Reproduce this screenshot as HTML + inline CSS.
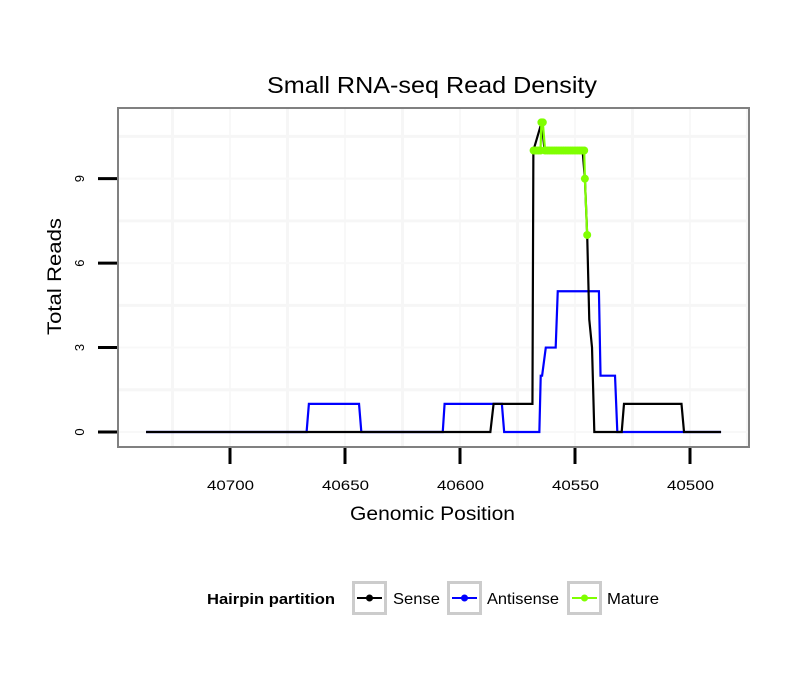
<!DOCTYPE html>
<html><head><meta charset="utf-8"><style>
body{margin:0;background:#fff;font-family:"Liberation Sans",sans-serif}
</style></head><body>
<svg id="chart" width="810" height="690" xmlns="http://www.w3.org/2000/svg">
<rect width="810" height="690" fill="#fff"/>
<text x="267" y="93" font-size="23" textLength="330" lengthAdjust="spacingAndGlyphs">Small RNA-seq Read Density</text>
<g id="grid"></g>
<g id="series"></g>
<rect x="118" y="108" width="631" height="339" fill="none" stroke="#808080" stroke-width="2"/>
<g id="axes"></g>
<text x="350" y="520" font-size="19" textLength="165" lengthAdjust="spacingAndGlyphs">Genomic Position</text>
<text transform="translate(61,335) rotate(-90)" font-size="19" textLength="117" lengthAdjust="spacingAndGlyphs">Total Reads</text>
<g>
<text x="207" y="604" font-size="15" font-weight="bold" textLength="128" lengthAdjust="spacingAndGlyphs">Hairpin partition</text>
<g>
<rect x="353.5" y="582.5" width="32" height="31" fill="#fff" stroke="#ccc" stroke-width="3"/>
<line x1="357" y1="598" x2="382" y2="598" stroke="#000" stroke-width="2"/><circle cx="369.5" cy="598" r="3.5" fill="#000"/>
<text x="393" y="604" font-size="16" textLength="47" lengthAdjust="spacingAndGlyphs">Sense</text></g>
<g>
<rect x="448.5" y="582.5" width="32" height="31" fill="#fff" stroke="#ccc" stroke-width="3"/>
<line x1="452" y1="598" x2="477" y2="598" stroke="#00f" stroke-width="2"/><circle cx="464.5" cy="598" r="3.5" fill="#00f"/>
<text x="487" y="604" font-size="16" textLength="72" lengthAdjust="spacingAndGlyphs">Antisense</text></g>
<g>
<rect x="568.5" y="582.5" width="32" height="31" fill="#fff" stroke="#ccc" stroke-width="3"/>
<line x1="572" y1="598" x2="597" y2="598" stroke="#7fff00" stroke-width="2"/><circle cx="584.5" cy="598" r="3.5" fill="#7fff00"/>
<text x="607" y="604" font-size="16" textLength="52" lengthAdjust="spacingAndGlyphs">Mature</text></g>
</g>
</svg>
<script>
const senseX=[40736.5,40586.8,40585.4,40568.5,40568.1,40564.5,40563.2,40546.7,40545.7,40544.7,40543.8,40542.6,40541.6,40529.7,40528.7,40503.7,40502.6,40486.5];
const senseY=[0,0,1,1,10,11,10,10,9,7,4,3,0,0,1,1,0,0];
const antiX=[40736.5,40666.7,40665.7,40643.9,40642.9,40607.5,40606.7,40581.8,40580.8,40565.5,40564.9,40564.3,40562.7,40558.4,40557.5,40539.6,40538.9,40532.6,40531.6,40486.5];
const antiY=[0,0,1,1,0,0,1,1,0,0,2,2,3,3,5,5,2,2,0,0];
const matureX=[40568,40567,40566,40565,40564.6,40564,40563,40562,40561,40560,40559,40558,40557,40556,40555,40554,40553,40552,40551,40550,40549,40548,40547,40546,40545.7,40544.7];
const matureY=[10,10,10,10,11,11,10,10,10,10,10,10,10,10,10,10,10,10,10,10,10,10,10,10,9,7];
const xTicks=[40700,40650,40600,40550,40500];
const yTicks=[0,3,6,9];
const X=v=>230+(40700-v)*2.3;
const Y=v=>432-v*28.15;
const NS="http://www.w3.org/2000/svg";
function mk(tag,attrs,parent){const e=document.createElementNS(NS,tag);for(const k in attrs)e.setAttribute(k,attrs[k]);parent.appendChild(e);return e;}
const grid=document.getElementById('grid'),axes=document.getElementById('axes'),ser=document.getElementById('series');
for(let i=0;i<xTicks.length;i++){
 const gl=mk('line',{x1:X(xTicks[i]),x2:X(xTicks[i]),y1:109,y2:446,stroke:'#f8f8f8','stroke-width':2},grid);
 
 
 const mx=X(xTicks[i])+57.5;
 const ml=mk('line',{x1:mx,x2:mx,y1:109,y2:446,stroke:'#f6f6f6','stroke-width':3},grid);
 
 
 const t=mk('line',{x1:X(xTicks[i]),x2:X(xTicks[i]),y1:448,y2:464,stroke:'#000','stroke-width':3},axes);
 
 
 const lb=mk('text',{x:X(xTicks[i])-23,y:490,'font-size':14,textLength:47,lengthAdjust:'spacingAndGlyphs'},axes);
 lb.textContent=xTicks[i];
 
 
}
{const ml=mk('line',{x1:X(40700)-57.5,x2:X(40700)-57.5,y1:109,y2:446,stroke:'#f6f6f6','stroke-width':3},grid);
 
 }
for(let i=0;i<yTicks.length;i++){
 const gl=mk('line',{x1:119,x2:748,y1:Y(yTicks[i]),y2:Y(yTicks[i]),stroke:'#f8f8f8','stroke-width':2},grid);
 
 
 const my=Y(yTicks[i]+1.5);
 const ml=mk('line',{x1:119,x2:748,y1:my,y2:my,stroke:'#f6f6f6','stroke-width':3},grid);
 
 
 const t=mk('line',{x1:98,x2:117,y1:Y(yTicks[i]),y2:Y(yTicks[i]),stroke:'#000','stroke-width':3},axes);
 
 
 const lb=mk('text',{transform:`translate(84,${Y(yTicks[i])}) rotate(-90)`,'font-size':13,'text-anchor':'middle'},axes);
 lb.textContent=yTicks[i];
 
 
}
function line(xs,ys,color,name){
 const p=mk('polyline',{points:xs.map((x,i)=>X(x)+','+Y(ys[i])).join(' '),fill:'none',stroke:color,'stroke-width':2.2},ser);
 
 
}
line(antiX,antiY,'#0000ff','antisense-line');
line(senseX,senseY,'#000','sense-line');
line(matureX,matureY,'#7fff00','mature-line');
for(let i=0;i<matureX.length;i++){
 const c=mk('circle',{cx:X(matureX[i]),cy:Y(matureY[i]),r:4,fill:'#7fff00'},ser);
 
 
}
</script>
</body></html>
